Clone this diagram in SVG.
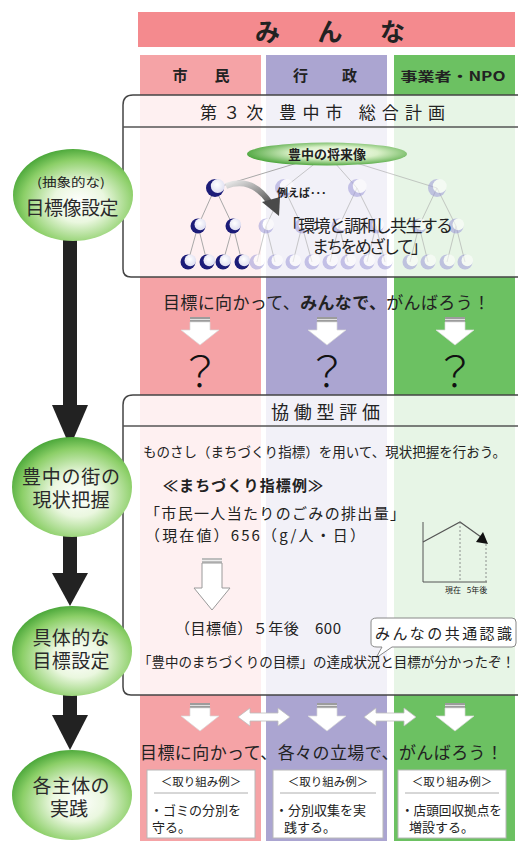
<svg xmlns="http://www.w3.org/2000/svg" xmlns:xlink="http://www.w3.org/1999/xlink" width="518" height="841" viewBox="0 0 518 841">
  <style>
    text { font-family: 'Noto Sans CJK JP', 'Noto Sans', sans-serif; fill: #222; }
    .step { font-size: 19px; text-anchor: middle; fill: #2a2a2a; }
    .hdr { font-size: 15px; font-weight: bold; text-anchor: middle; }
    .body { font-size: 15px; }
    .ex { font-size: 13px; }
    .exh { font-size: 11.5px; text-anchor: middle; }
    .q { font-size: 42px; font-weight: 300; text-anchor: middle; fill: #111; }
    .frame { fill: #ffffff; fill-opacity: 0.84; stroke: #444; stroke-width: 1.5; }
    .sep { stroke: #555; stroke-width: 1.5; }
    .tline { stroke: #a8a8a8; stroke-width: 1; }
    .exbox { fill: #ffffff; stroke: #b8b8b8; stroke-width: 1; }
  </style>
  <defs>
    <radialGradient id="gStep" cx="0.55" cy="0.58" r="0.62">
      <stop offset="0" stop-color="#ffffff"/>
      <stop offset="0.35" stop-color="#eaf7df"/>
      <stop offset="0.75" stop-color="#8ccf68"/>
      <stop offset="1" stop-color="#3d9f30"/>
    </radialGradient>
    <radialGradient id="gOval" cx="0.55" cy="0.45" r="0.6">
      <stop offset="0" stop-color="#ffffff"/>
      <stop offset="0.45" stop-color="#d9f0c8"/>
      <stop offset="1" stop-color="#3f9e2f"/>
    </radialGradient>
    <radialGradient id="gHl" cx="0.45" cy="0.4" r="0.65">
      <stop offset="0" stop-color="#ffffff"/>
      <stop offset="1" stop-color="#dcdcf0"/>
    </radialGradient>
    <linearGradient id="gCurve" x1="0" y1="0" x2="1" y2="1">
      <stop offset="0" stop-color="#e8e8e8"/>
      <stop offset="1" stop-color="#555"/>
    </linearGradient>
    <g id="nDark">
      <circle r="7.5" fill="#1c1c78"/>
      <circle cx="2.3" cy="-1.6" r="5.8" fill="url(#gHl)"/>
    </g>
    <g id="nLight" opacity="0.55">
      <circle r="7.5" fill="#9d99d8"/>
      <circle cx="2.3" cy="-1.6" r="5.8" fill="#ffffff"/>
    </g>
    <g id="dArrow">
      <rect x="-10" y="0" width="20" height="5" fill="#9c9c9c"/>
      <line x1="-10" y1="2.5" x2="10" y2="2.5" stroke="#e0e0e0" stroke-width="1"/>
      <path d="M-10,5 H10 V13 H19 L0,28 L-19,13 H-10 Z" fill="#ffffff" stroke="#d8d8d8" stroke-width="0.7"/>
    </g>
    <path id="hArrow" d="M0,0 L12,-9 V-4 H40 V-9 L52,0 L40,9 V4 H12 V9 Z" fill="#ffffff" stroke="#bdbdbd" stroke-width="0.8"/>
  </defs>

  <rect width="518" height="841" fill="#ffffff"/>

  <!-- participant columns -->
  <g id="columns">
    <rect x="138" y="12" width="377" height="35" fill="#f48a8e"/>
    <text x="255" y="41" font-size="25" font-weight="bold" textLength="150" lengthAdjust="spacing">み　ん　な</text>
    <rect x="140" y="55" width="121" height="786" fill="#f5a3a6"/>
    <rect x="266" y="55" width="121" height="786" fill="#aba5d1"/>
    <rect x="394" y="55" width="121" height="786" fill="#6cc162"/>
    <text class="hdr" x="201" y="81" textLength="57" lengthAdjust="spacing">市　民</text>
    <text class="hdr" x="325" y="81" textLength="64" lengthAdjust="spacing">行　政</text>
    <text x="453" y="81" font-size="13" font-weight="bold" text-anchor="middle" textLength="105" lengthAdjust="spacingAndGlyphs">事業者・NPO</text>
  </g>

  <!-- plan box -->
  <g id="plan">
    <path class="frame" d="M520,95 H133 Q123,95 123,105 V269 Q123,277 131,277 H520"/>
    <line class="sep" x1="123" y1="127" x2="518" y2="127"/>
    <text x="200" y="119" font-size="17" fill="#333" textLength="245" lengthAdjust="spacing">第３次 豊中市 総合計画</text>

    <g id="tree">
      <g class="tline">
        <line x1="327" y1="154" x2="215" y2="188"/>
        <line x1="327" y1="154" x2="284" y2="188" opacity="0.6"/>
        <line x1="327" y1="154" x2="357" y2="188" opacity="0.6"/>
        <line x1="327" y1="154" x2="437" y2="188" opacity="0.6"/>
        <line x1="215" y1="188" x2="198" y2="226"/>
        <line x1="215" y1="188" x2="233" y2="226"/>
        <line x1="284" y1="188" x2="266" y2="226" opacity="0.6"/>
        <line x1="284" y1="188" x2="302" y2="226" opacity="0.6"/>
        <line x1="357" y1="188" x2="339" y2="226" opacity="0.6"/>
        <line x1="357" y1="188" x2="376" y2="226" opacity="0.6"/>
        <line x1="437" y1="188" x2="419" y2="226" opacity="0.6"/>
        <line x1="437" y1="188" x2="456" y2="226" opacity="0.6"/>
        <line x1="198" y1="226" x2="188" y2="262"/>
        <line x1="198" y1="226" x2="207" y2="262"/>
        <line x1="233" y1="226" x2="223" y2="262"/>
        <line x1="233" y1="226" x2="242" y2="262"/>
        <g opacity="0.6">
          <line x1="266" y1="226" x2="257" y2="262"/>
          <line x1="266" y1="226" x2="275" y2="262"/>
          <line x1="302" y1="226" x2="293" y2="262"/>
          <line x1="302" y1="226" x2="312" y2="262"/>
          <line x1="339" y1="226" x2="330" y2="262"/>
          <line x1="339" y1="226" x2="348" y2="262"/>
          <line x1="376" y1="226" x2="367" y2="262"/>
          <line x1="376" y1="226" x2="385" y2="262"/>
          <line x1="419" y1="226" x2="410" y2="262"/>
          <line x1="419" y1="226" x2="428" y2="262"/>
          <line x1="456" y1="226" x2="447" y2="262"/>
          <line x1="456" y1="226" x2="465" y2="262"/>
        </g>
      </g>
      <ellipse cx="327" cy="154" rx="80" ry="11.5" fill="url(#gOval)"/>
      <text x="327" y="159" font-size="13" font-weight="bold" text-anchor="middle">豊中の将来像</text>

      <use href="#nDark" transform="translate(215,188) scale(1.2)"/>
      <use href="#nLight" transform="translate(284,188) scale(1.2)"/>
      <use href="#nLight" transform="translate(357,188) scale(1.2)"/>
      <use href="#nLight" transform="translate(437,188) scale(1.2)"/>

      <use href="#nDark" x="198" y="226"/>
      <use href="#nDark" x="233" y="226"/>
      <use href="#nLight" x="266" y="226"/>
      <use href="#nLight" x="302" y="226"/>
      <use href="#nLight" x="339" y="226"/>
      <use href="#nLight" x="376" y="226"/>
      <use href="#nLight" x="419" y="226"/>
      <use href="#nLight" x="456" y="226"/>

      <use href="#nDark" x="188" y="262"/>
      <use href="#nDark" x="207" y="262"/>
      <use href="#nDark" x="223" y="262"/>
      <use href="#nDark" x="242" y="262"/>
      <use href="#nLight" x="257" y="262"/>
      <use href="#nLight" x="275" y="262"/>
      <use href="#nLight" x="293" y="262"/>
      <use href="#nLight" x="312" y="262"/>
      <use href="#nLight" x="330" y="262"/>
      <use href="#nLight" x="348" y="262"/>
      <use href="#nLight" x="367" y="262"/>
      <use href="#nLight" x="385" y="262"/>
      <use href="#nLight" x="410" y="262"/>
      <use href="#nLight" x="428" y="262"/>
      <use href="#nLight" x="447" y="262"/>
      <use href="#nLight" x="465" y="262"/>

      <!-- "for example" pointer -->
      <path d="M226,186 Q252,176 270,203" fill="none" stroke="url(#gCurve)" stroke-width="6"/>
      <polygon points="262,202 280,197 279,216" fill="#4a4a4a"/>
      <text x="277" y="197" font-size="11" font-weight="bold">例えば･･･</text>
      <text x="283" y="232" font-size="17" textLength="170" lengthAdjust="spacing">「環境と調和し共生する</text>
      <text x="312" y="253" font-size="17" textLength="116" lengthAdjust="spacing">まちをめざして」</text>
    </g>
  </g>

  <!-- shared slogan -->
  <g id="slogan">
    <text x="163" y="309" font-size="17" textLength="327" lengthAdjust="spacing">目標に向かって、<tspan font-weight="bold">みんなで、</tspan>がんばろう！</text>
    <use href="#dArrow" x="200" y="317"/>
    <use href="#dArrow" x="327" y="317"/>
    <use href="#dArrow" x="455" y="317"/>
    <text class="q" x="200" y="387">？</text>
    <text class="q" x="327" y="387">？</text>
    <text class="q" x="455" y="387">？</text>
  </g>

  <!-- evaluation box -->
  <g id="evaluation">
    <path class="frame" d="M520,395 H133 Q123,395 123,405 V687 Q123,695 131,695 H520"/>
    <line class="sep" x1="123" y1="426" x2="518" y2="426"/>
    <text x="271" y="419" font-size="18" fill="#444" textLength="109" lengthAdjust="spacing">協働型評価</text>
    <text x="143" y="457" font-size="13.5" textLength="363" lengthAdjust="spacing">ものさし（まちづくり指標）を用いて、現状把握を行おう。</text>
    <text x="163" y="491" font-size="15" font-weight="bold" textLength="160" lengthAdjust="spacing">≪まちづくり指標例≫</text>
    <text class="body" x="145" y="519" textLength="260" lengthAdjust="spacing">「市民一人当たりのごみの排出量」</text>
    <text class="body" x="145" y="541" textLength="220" lengthAdjust="spacing">（現在値）656（g/人・日）</text>

    <rect x="202" y="558" width="20" height="5" fill="#bdbdbd"/>
    <line x1="202" y1="560.5" x2="222" y2="560.5" stroke="#eee" stroke-width="1"/>
    <path d="M202,563 H222 V588 H230 L212,610 L194,588 H202 Z" fill="#ffffff" stroke="#9a9a9a" stroke-width="1"/>

    <text class="body" x="175" y="634" textLength="166" lengthAdjust="spacing">（目標値）５年後　600</text>

    <!-- trend chart -->
    <g id="chart">
      <polyline points="423,522 423,582 487,582" fill="none" stroke="#555" stroke-width="1"/>
      <polyline points="423,542 460,522 481,537" fill="none" stroke="#555" stroke-width="1.2"/>
      <polygon points="476,542 488,544 483,532" fill="#111"/>
      <line x1="460" y1="522" x2="460" y2="582" stroke="#777" stroke-width="0.8" stroke-dasharray="2,2"/>
      <line x1="486" y1="544" x2="486" y2="582" stroke="#777" stroke-width="0.8" stroke-dasharray="2,2"/>
      <text x="453" y="593" font-size="8" text-anchor="middle">現在</text>
      <text x="477" y="593" font-size="8" text-anchor="middle">5年後</text>
    </g>

    <!-- speech bubble -->
    <path d="M377,618 H512 Q516,618 516,622 V643 Q516,647 512,647 H392 L376,658 L382,647 H377 Q371,647 371,643 V622 Q371,618 377,618 Z" fill="#ffffff" stroke="#888" stroke-width="1"/>
    <text x="375" y="639" font-size="15" textLength="137" lengthAdjust="spacing">みんなの共通認識</text>

    <text x="138" y="667" font-size="13.5" textLength="377" lengthAdjust="spacing">「豊中のまちづくりの目標」の達成状況と目標が分かったぞ！</text>
  </g>

  <!-- practice by each actor -->
  <g id="practice">
    <use href="#dArrow" x="200" y="703"/>
    <use href="#dArrow" x="327" y="703"/>
    <use href="#dArrow" x="455" y="703"/>
    <use href="#hArrow" x="238" y="717"/>
    <use href="#hArrow" x="364" y="717"/>
    <text x="140" y="759" font-size="17" textLength="363" lengthAdjust="spacing">目標に向かって、各々の立場で、がんばろう！</text>

    <g id="ex-citizen">
      <rect class="exbox" x="147" y="770" width="108" height="68"/>
      <text class="exh" x="201" y="786">＜取り組み例＞</text>
      <line x1="154" y1="793" x2="248" y2="793" stroke="#999" stroke-width="0.8"/>
      <text class="ex" x="150" y="815">・ゴミの分別を</text>
      <text class="ex" x="152" y="832">守る。</text>
    </g>
    <g id="ex-city">
      <rect class="exbox" x="273" y="770" width="110" height="68"/>
      <text class="exh" x="328" y="786">＜取り組み例＞</text>
      <line x1="280" y1="793" x2="376" y2="793" stroke="#999" stroke-width="0.8"/>
      <text class="ex" x="275" y="815">・分別収集を実</text>
      <text class="ex" x="284" y="832">践する。</text>
    </g>
    <g id="ex-business">
      <rect class="exbox" x="398" y="770" width="108" height="68"/>
      <text class="exh" x="452" y="786">＜取り組み例＞</text>
      <line x1="405" y1="793" x2="499" y2="793" stroke="#999" stroke-width="0.8"/>
      <text class="ex" x="401" y="815" textLength="101" lengthAdjust="spacingAndGlyphs">・店頭回収拠点を</text>
      <text class="ex" x="409" y="832">増設する。</text>
    </g>
  </g>

  <!-- process flow arrows -->
  <g id="connectors" fill="#222">
    <rect x="63" y="236" width="14" height="171"/>
    <polygon points="52,405 88,405 70,447"/>
    <rect x="63" y="533" width="14" height="42"/>
    <polygon points="52,573 88,573 70,606"/>
    <rect x="63" y="692" width="14" height="25"/>
    <polygon points="52,715 88,715 70,750"/>
  </g>

  <!-- process steps -->
  <g id="step-vision">
    <ellipse cx="73" cy="195" rx="60" ry="46" fill="url(#gStep)"/>
    <text x="71" y="187" font-size="12" text-anchor="middle" fill="#2a2a2a" textLength="68" lengthAdjust="spacingAndGlyphs">(抽象的な)</text>
    <text class="step" x="72" y="215" textLength="93" lengthAdjust="spacing">目標像設定</text>
  </g>
  <g id="step-status">
    <ellipse cx="72" cy="487" rx="60" ry="50" fill="url(#gStep)"/>
    <text class="step" x="71" y="484" textLength="98" lengthAdjust="spacing">豊中の街の</text>
    <text class="step" x="71" y="507" textLength="77" lengthAdjust="spacing">現状把握</text>
  </g>
  <g id="step-target">
    <ellipse cx="72" cy="651" rx="60" ry="45" fill="url(#gStep)"/>
    <text class="step" x="71" y="645" textLength="77" lengthAdjust="spacing">具体的な</text>
    <text class="step" x="71" y="668" textLength="77" lengthAdjust="spacing">目標設定</text>
  </g>
  <g id="step-action">
    <ellipse cx="72" cy="795" rx="60" ry="45" fill="url(#gStep)"/>
    <text class="step" x="71" y="793" textLength="77" lengthAdjust="spacing">各主体の</text>
    <text class="step" x="69" y="816">実践</text>
  </g>
</svg>
